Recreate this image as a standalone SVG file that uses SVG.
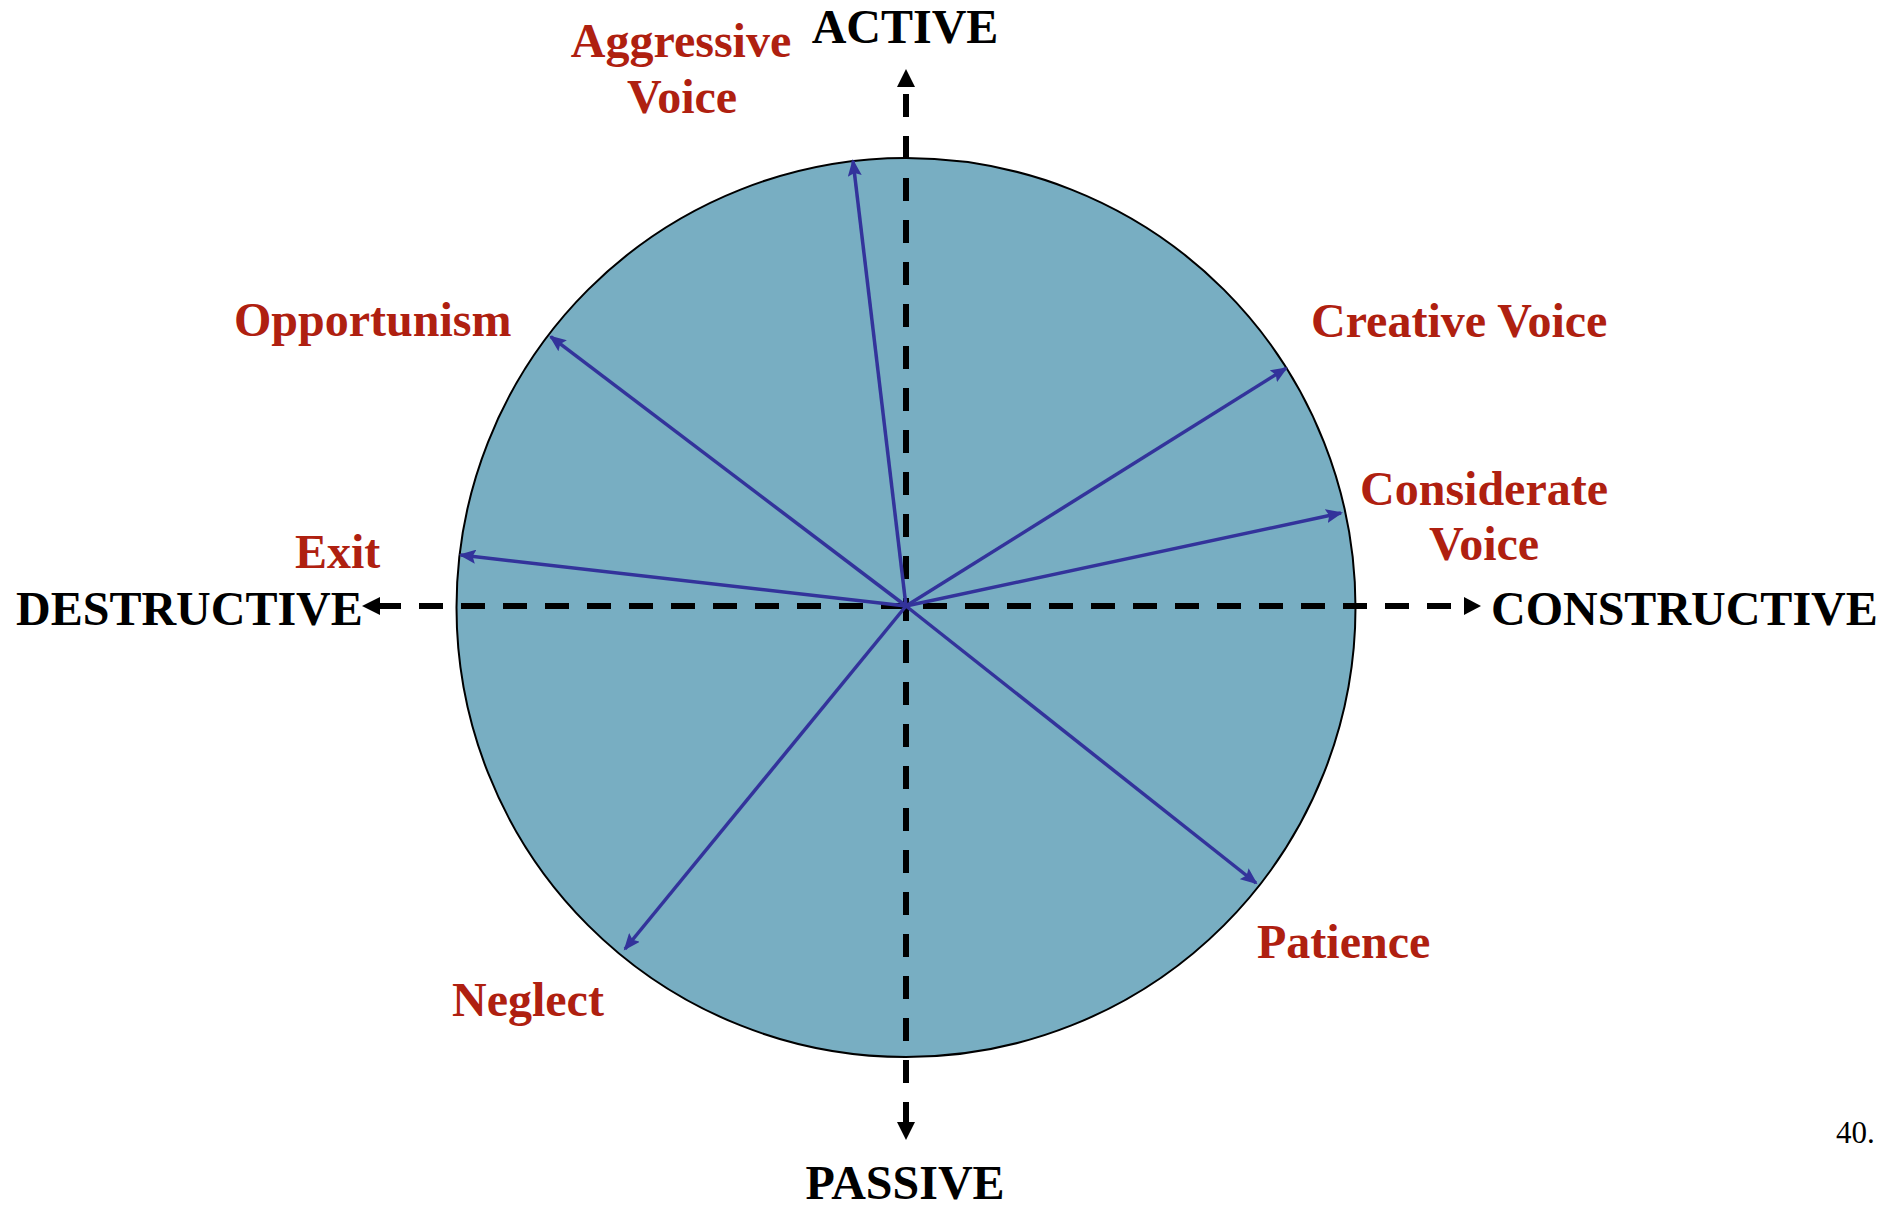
<svg xmlns="http://www.w3.org/2000/svg" width="1901" height="1210" viewBox="0 0 1901 1210">
<style>
.axis{stroke:#000;stroke-width:6;fill:none}
.head{fill:#000}
.vec{stroke:#33339B;stroke-width:3.5;fill:none;marker-end:url(#ph)}
.lab{font-family:"Liberation Serif","Times New Roman",serif;font-weight:bold;font-size:48px;fill:#000}
.red{font-family:"Liberation Serif","Times New Roman",serif;font-weight:bold;font-size:48px;fill:#AF2010}
.num{font-family:"Liberation Serif","Times New Roman",serif;font-size:31px;fill:#000}
</style>
<defs>
<marker id="ph" markerUnits="userSpaceOnUse" markerWidth="18" markerHeight="14" refX="15" refY="7" orient="auto">
<path d="M0,0 L17,7 L0,14 L3,7 z" fill="#33339B"/>
</marker>
</defs>
<rect width="1901" height="1210" fill="#fff"/>
<g id="circle">
<circle cx="906" cy="607.5" r="449.5" fill="#78AEC2" stroke="#000" stroke-width="2"/>
</g>
<g id="connectors">
<line class="axis" x1="906" y1="94" x2="906" y2="1125" stroke-dasharray="23 19"/>
<polygon class="head" points="906,69 897,87 915,87"/>
<polygon class="head" points="906,1140 897,1122 915,1122"/>
<line class="axis" x1="377" y1="606" x2="1466" y2="606" stroke-dasharray="24 18"/>
<polygon class="head" points="362,606 380,597 380,615"/>
<polygon class="head" points="1481,606 1464,597 1464,615"/>
<line class="vec" x1="906" y1="606" x2="853" y2="161"/>
<line class="vec" x1="906" y1="606" x2="550.7" y2="336.7"/>
<line class="vec" x1="906" y1="606" x2="460.7" y2="555"/>
<line class="vec" x1="906" y1="606" x2="625" y2="949"/>
<line class="vec" x1="906" y1="606" x2="1256" y2="883"/>
<line class="vec" x1="906" y1="606" x2="1341" y2="513"/>
<line class="vec" x1="906" y1="606" x2="1286" y2="368.3"/>
</g>
<g id="active"><text class="lab" x="905" y="43" text-anchor="middle">ACTIVE</text></g>
<g id="passive"><text class="lab" x="905" y="1199" text-anchor="middle">PASSIVE</text></g>
<g id="destructive"><text class="lab" x="16" y="625">DESTRUCTIVE</text></g>
<g id="constructive"><text class="lab" x="1491" y="625">CONSTRUCTIVE</text></g>
<g id="aggressive-voice">
<text class="red" x="681" y="57" text-anchor="middle">Aggressive</text>
<text class="red" x="682" y="113" text-anchor="middle">Voice</text>
</g>
<g id="opportunism"><text class="red" x="234" y="336">Opportunism</text></g>
<g id="exit"><text class="red" x="295" y="568">Exit</text></g>
<g id="neglect"><text class="red" x="452" y="1016">Neglect</text></g>
<g id="patience"><text class="red" x="1257" y="958">Patience</text></g>
<g id="considerate-voice">
<text class="red" x="1484" y="505" text-anchor="middle">Considerate</text>
<text class="red" x="1484" y="560" text-anchor="middle">Voice</text>
</g>
<g id="creative-voice"><text class="red" x="1311" y="337">Creative Voice</text></g>
<g id="page"><text class="num" x="1836" y="1143">40.</text></g>
</svg>
